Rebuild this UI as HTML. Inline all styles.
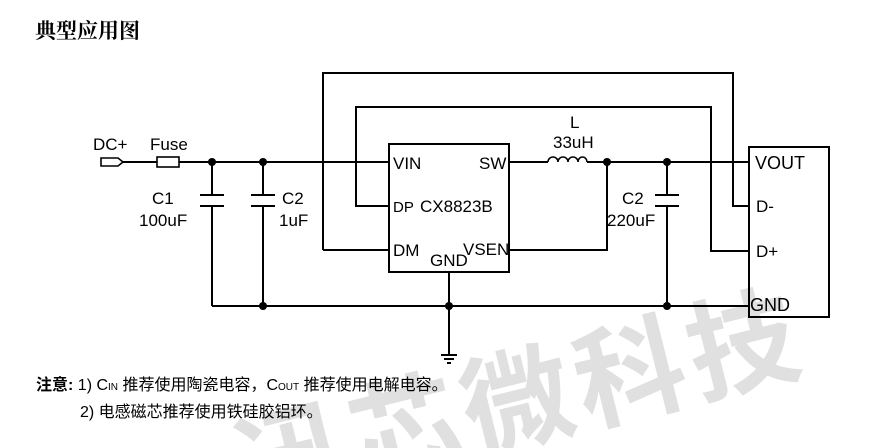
<!DOCTYPE html>
<html><head><meta charset="utf-8"><style>
body{margin:0;background:#fff;width:869px;height:448px;overflow:hidden;position:relative}
svg{position:absolute;left:0;top:0}
text{font-family:"Liberation Sans","Noto Sans CJK SC",sans-serif;fill:#000}
</style></head><body>
<svg width="869" height="448" viewBox="0 0 869 448">
<text x="520" y="440" text-anchor="middle" font-size="110" font-weight="bold" letter-spacing="6" transform="rotate(-14 520 400)" style="fill:#e0e0e0;font-family:'Noto Sans CJK SC',sans-serif">迅芯微科技</text>
<text x="35" y="38" font-size="21" font-weight="bold" style="font-family:'Noto Serif CJK SC',serif">典型应用图</text>
<g stroke="#000" stroke-width="2" fill="none">
<polyline points="323,250 323,73 733,73 733,206 749,206"/>
<polyline points="389,206 356,206 356,107 711,107 711,251 749,251"/>
<line x1="323" y1="250" x2="389" y2="250"/>
<line x1="123" y1="162" x2="157" y2="162"/>
<line x1="179" y1="162" x2="389" y2="162"/>
<rect x="157" y="157" width="22" height="10" stroke-width="1.6"/>
<polygon points="101,158 118,158 123,162 118,166 101,166" stroke-width="1.6"/>
<line x1="212" y1="162" x2="212" y2="195"/><line x1="212" y1="206" x2="212" y2="306"/>
<line x1="263" y1="162" x2="263" y2="195"/><line x1="263" y1="206" x2="263" y2="306"/>
<line x1="200" y1="195" x2="224" y2="195"/><line x1="200" y1="206" x2="224" y2="206"/>
<line x1="251" y1="195" x2="275" y2="195"/><line x1="251" y1="206" x2="275" y2="206"/>
<line x1="212" y1="306" x2="749" y2="306"/>
<rect x="389" y="144" width="120" height="128"/>
<line x1="449" y1="272" x2="449" y2="355"/>
<line x1="441" y1="355" x2="457" y2="355"/><line x1="444" y1="359" x2="454" y2="359"/><line x1="447" y1="363" x2="451" y2="363"/>
<line x1="509" y1="162" x2="548" y2="162"/>
<path d="M548,162 a5,5 0 0 1 10,0 a5,5 0 0 1 10,0 a5,5 0 0 1 10,0 a4.5,5 0 0 1 9,0" stroke-width="1.6"/>
<line x1="587" y1="162" x2="749" y2="162"/>
<polyline points="509,250 607,250 607,162"/>
<line x1="667" y1="162" x2="667" y2="195"/><line x1="667" y1="206" x2="667" y2="306"/>
<line x1="655" y1="195" x2="679" y2="195"/><line x1="655" y1="206" x2="679" y2="206"/>
<rect x="749" y="147" width="80" height="170"/>
</g>
<g fill="#000">
<circle cx="212" cy="162" r="4"/><circle cx="263" cy="162" r="4"/>
<circle cx="263" cy="306" r="4"/><circle cx="449" cy="306" r="4"/>
<circle cx="607" cy="162" r="4"/><circle cx="667" cy="162" r="4"/><circle cx="667" cy="306" r="4"/>
</g>
<g font-size="17">
<text x="93" y="150">DC+</text><text x="150" y="150">Fuse</text>
<text x="152" y="204">C1</text><text x="139" y="226">100uF</text>
<text x="282" y="204">C2</text><text x="279" y="226">1uF</text>
<text x="393" y="169">VIN</text><text x="479" y="169">SW</text>
<text x="393" y="212" font-size="15">DP</text><text x="420" y="212">CX8823B</text>
<text x="393" y="256">DM</text><text x="463" y="255">VSEN</text><text x="430" y="266">GND</text>
<text x="570" y="128">L</text><text x="553" y="148">33uH</text>
<text x="622" y="204">C2</text><text x="607" y="226">220uF</text>
<text x="755" y="169" font-size="18">VOUT</text>
<text x="756" y="212">D-</text><text x="756" y="257">D+</text>
<text x="750" y="311" font-size="18">GND</text>
</g>
<g font-size="16">
<text x="36" y="390"><tspan font-weight="bold">注意:</tspan> 1) C<tspan font-size="10">IN</tspan> 推荐使用陶瓷电容，C<tspan font-size="10">OUT</tspan> 推荐使用电解电容。</text>
<text x="80" y="417">2)  电感磁芯推荐使用铁硅胶铝环。</text>
</g>
</svg>
</body></html>
